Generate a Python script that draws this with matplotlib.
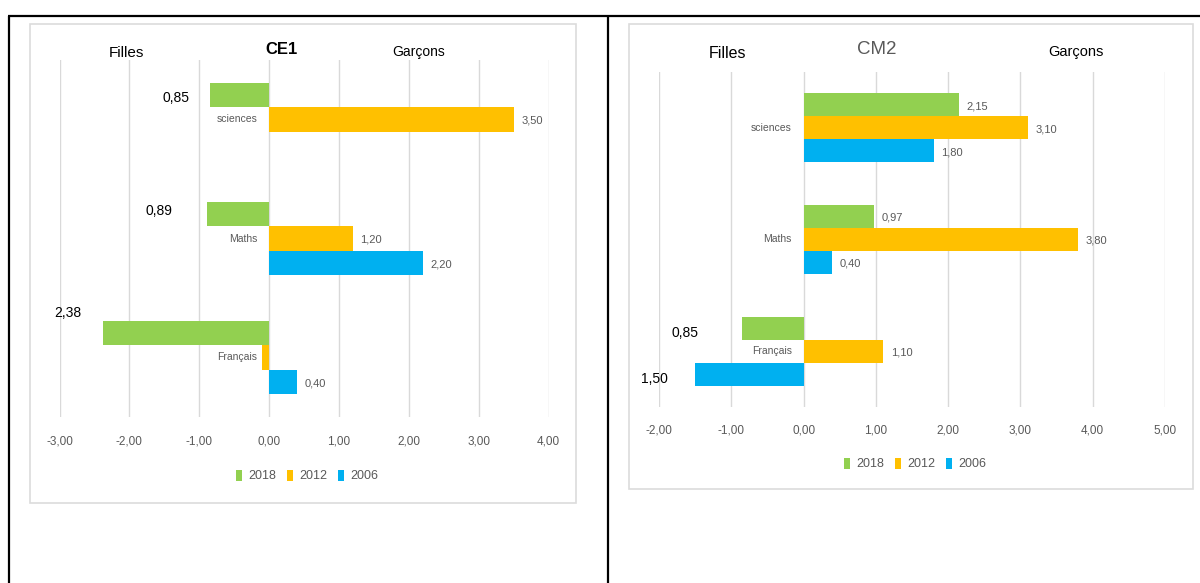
import numpy as np
import matplotlib
matplotlib.use("Agg")
import matplotlib.pyplot as plt
from matplotlib.lines import Line2D
from matplotlib.patches import Rectangle, Patch
from matplotlib.ticker import FixedLocator, FuncFormatter

plt.rcParams['font.family'] = ['Liberation Sans', 'DejaVu Sans']

# ---- data -------------------------------------------------------------
subjects = ["sciences", "Maths", "Français"]
years = ["2018", "2012", "2006"]
year_colors = ["#92D050", "#FFC000", "#00B0F0"]

# gap Garçons - Filles (negative: in favour of girls)
ce1_2018 = [-0.85, -0.89, -2.38]
ce1_2012 = [3.50, 1.20, -0.10]
ce1_2006 = [np.nan, 2.20, 0.40]

cm2_2018 = [2.15, 0.97, -0.85]
cm2_2012 = [3.10, 3.80, 1.10]
cm2_2006 = [1.80, 0.40, -1.50]

ce1_ticks = [-3, -2, -1, 0, 1, 2, 3, 4]
cm2_ticks = [-2, -1, 0, 1, 2, 3, 4, 5]

W, H = 1200, 583
fig = plt.figure(figsize=(W / 100, H / 100), dpi=100)
fig.patch.set_facecolor("white")


def fx(px):
    return px / W


def fy(py):
    return 1 - py / H


def comma(v, absolute=False):
    v = abs(v) if absolute else v
    return f"{v:.2f}".replace(".", ",")


# ---- table borders and chart frames ------------------------------------
border = dict(color="black", lw=1.6, transform=fig.transFigure, zorder=10,
              solid_capstyle="butt")
fig.add_artist(Line2D([fx(8), fx(1200)], [fy(16), fy(16)], **border))
fig.add_artist(Line2D([fx(9), fx(9)], [fy(15.5), fy(583)], **border))
fig.add_artist(Line2D([fx(607.5), fx(607.5)], [fy(15.5), fy(583)], **border))

for x0, y0, x1, y1 in [(30, 24, 576, 503), (629, 24, 1193, 489)]:
    fig.add_artist(Rectangle((fx(x0), fy(y1)), fx(x1) - fx(x0), fy(y0) - fy(y1),
                             transform=fig.transFigure, facecolor="none",
                             edgecolor="#DCDCDC", lw=1.2, zorder=1))


def draw_panel(box, ticks, series, callouts, tick_pad):
    left, top, right, bottom = box
    ax = fig.add_axes([fx(left), fy(bottom), fx(right) - fx(left), fy(top) - fy(bottom)])
    ax.set_facecolor("none")
    n = len(subjects)
    ypos = np.arange(n)[::-1].astype(float)
    h = 0.205
    offsets = [h, 0.0, -h]
    for si, (vals, col, off) in enumerate(zip(series, year_colors, offsets)):
        vals = np.asarray(vals, float)
        ok = ~np.isnan(vals)
        ax.barh(ypos[ok] + off, vals[ok], height=h, color=col, zorder=2)
        for ci in range(n):
            v = vals[ci]
            if np.isnan(v):
                continue
            if v > 0:
                ax.annotate(comma(v), (v, ypos[ci] + off), xytext=(5.5, -1),
                            textcoords="offset points", ha="left", va="center",
                            fontsize=8, color="#595959")
            elif (si, ci) in callouts:
                lx, ly = callouts[(si, ci)]
                ax.text(lx, ly, comma(v, absolute=True), ha="center", va="center",
                        fontsize=10, color="black", clip_on=False)
    for ci, name in enumerate(subjects):
        ax.annotate(name, (0, ypos[ci]), xytext=(-8.5, 0), textcoords="offset points",
                    ha="right", va="center", fontsize=7.5, color="#595959")
    ax.set_xlim(ticks[0], ticks[-1])
    ax.set_ylim(-0.5, n - 0.5)
    ax.xaxis.set_major_locator(FixedLocator(ticks))
    ax.xaxis.set_major_formatter(FuncFormatter(lambda v, p: comma(v)))
    ax.set_yticks([])
    ax.tick_params(axis="x", length=0, pad=tick_pad, labelsize=8.5, labelcolor="#595959")
    ax.grid(axis="x", color="#D9D9D9", lw=1.0)
    ax.set_axisbelow(True)
    for s in ax.spines.values():
        s.set_visible(False)
    return ax


# ---- CE1 ----------------------------------------------------------------
ce1_callouts = {(0, 0): (-1.33, 2.18), (0, 1): (-1.57, 1.23), (0, 2): (-2.88, 0.37)}
draw_panel((59.5, 60, 548.5, 417), ce1_ticks, [ce1_2018, ce1_2012, ce1_2006],
           ce1_callouts, tick_pad=13.5)
fig.text(fx(126), fy(53), "Filles", ha="center", va="center", fontsize=11, color="black")
fig.text(fx(282), fy(49), "CE1", ha="center", va="center", fontsize=12,
         fontweight="bold", color="black")
fig.text(fx(419), fy(52), "Garçons", ha="center", va="center", fontsize=10, color="black")

# ---- CM2 ----------------------------------------------------------------
cm2_callouts = {(0, 2): (-1.64, 0.16), (2, 2): (-2.06, -0.25)}
draw_panel((659, 72, 1165, 407), cm2_ticks, [cm2_2018, cm2_2012, cm2_2006],
           cm2_callouts, tick_pad=12.5)
fig.text(fx(728), fy(54), "Filles", ha="center", va="center", fontsize=11.5, color="black")
fig.text(fx(877), fy(50), "CM2", ha="center", va="center", fontsize=13.5, color="#595959")
fig.text(fx(1076), fy(52), "Garçons", ha="center", va="center", fontsize=10.5, color="black")

# ---- legends ------------------------------------------------------------
handles = [Patch(facecolor=c, edgecolor="none", label=y) for c, y in zip(year_colors, years)]
for cx, cy, fs in [(307, 476, 9), (915, 464, 9)]:
    leg = fig.legend(handles=handles, loc="center", bbox_to_anchor=(fx(cx), fy(cy)),
                     ncol=3, frameon=False, fontsize=fs, handlelength=0.5,
                     handleheight=1.0, handletextpad=0.45, columnspacing=0.9,
                     borderpad=0)
    for t in leg.get_texts():
        t.set_color("#595959")

fig.savefig("out.png", dpi=100, facecolor="white")
